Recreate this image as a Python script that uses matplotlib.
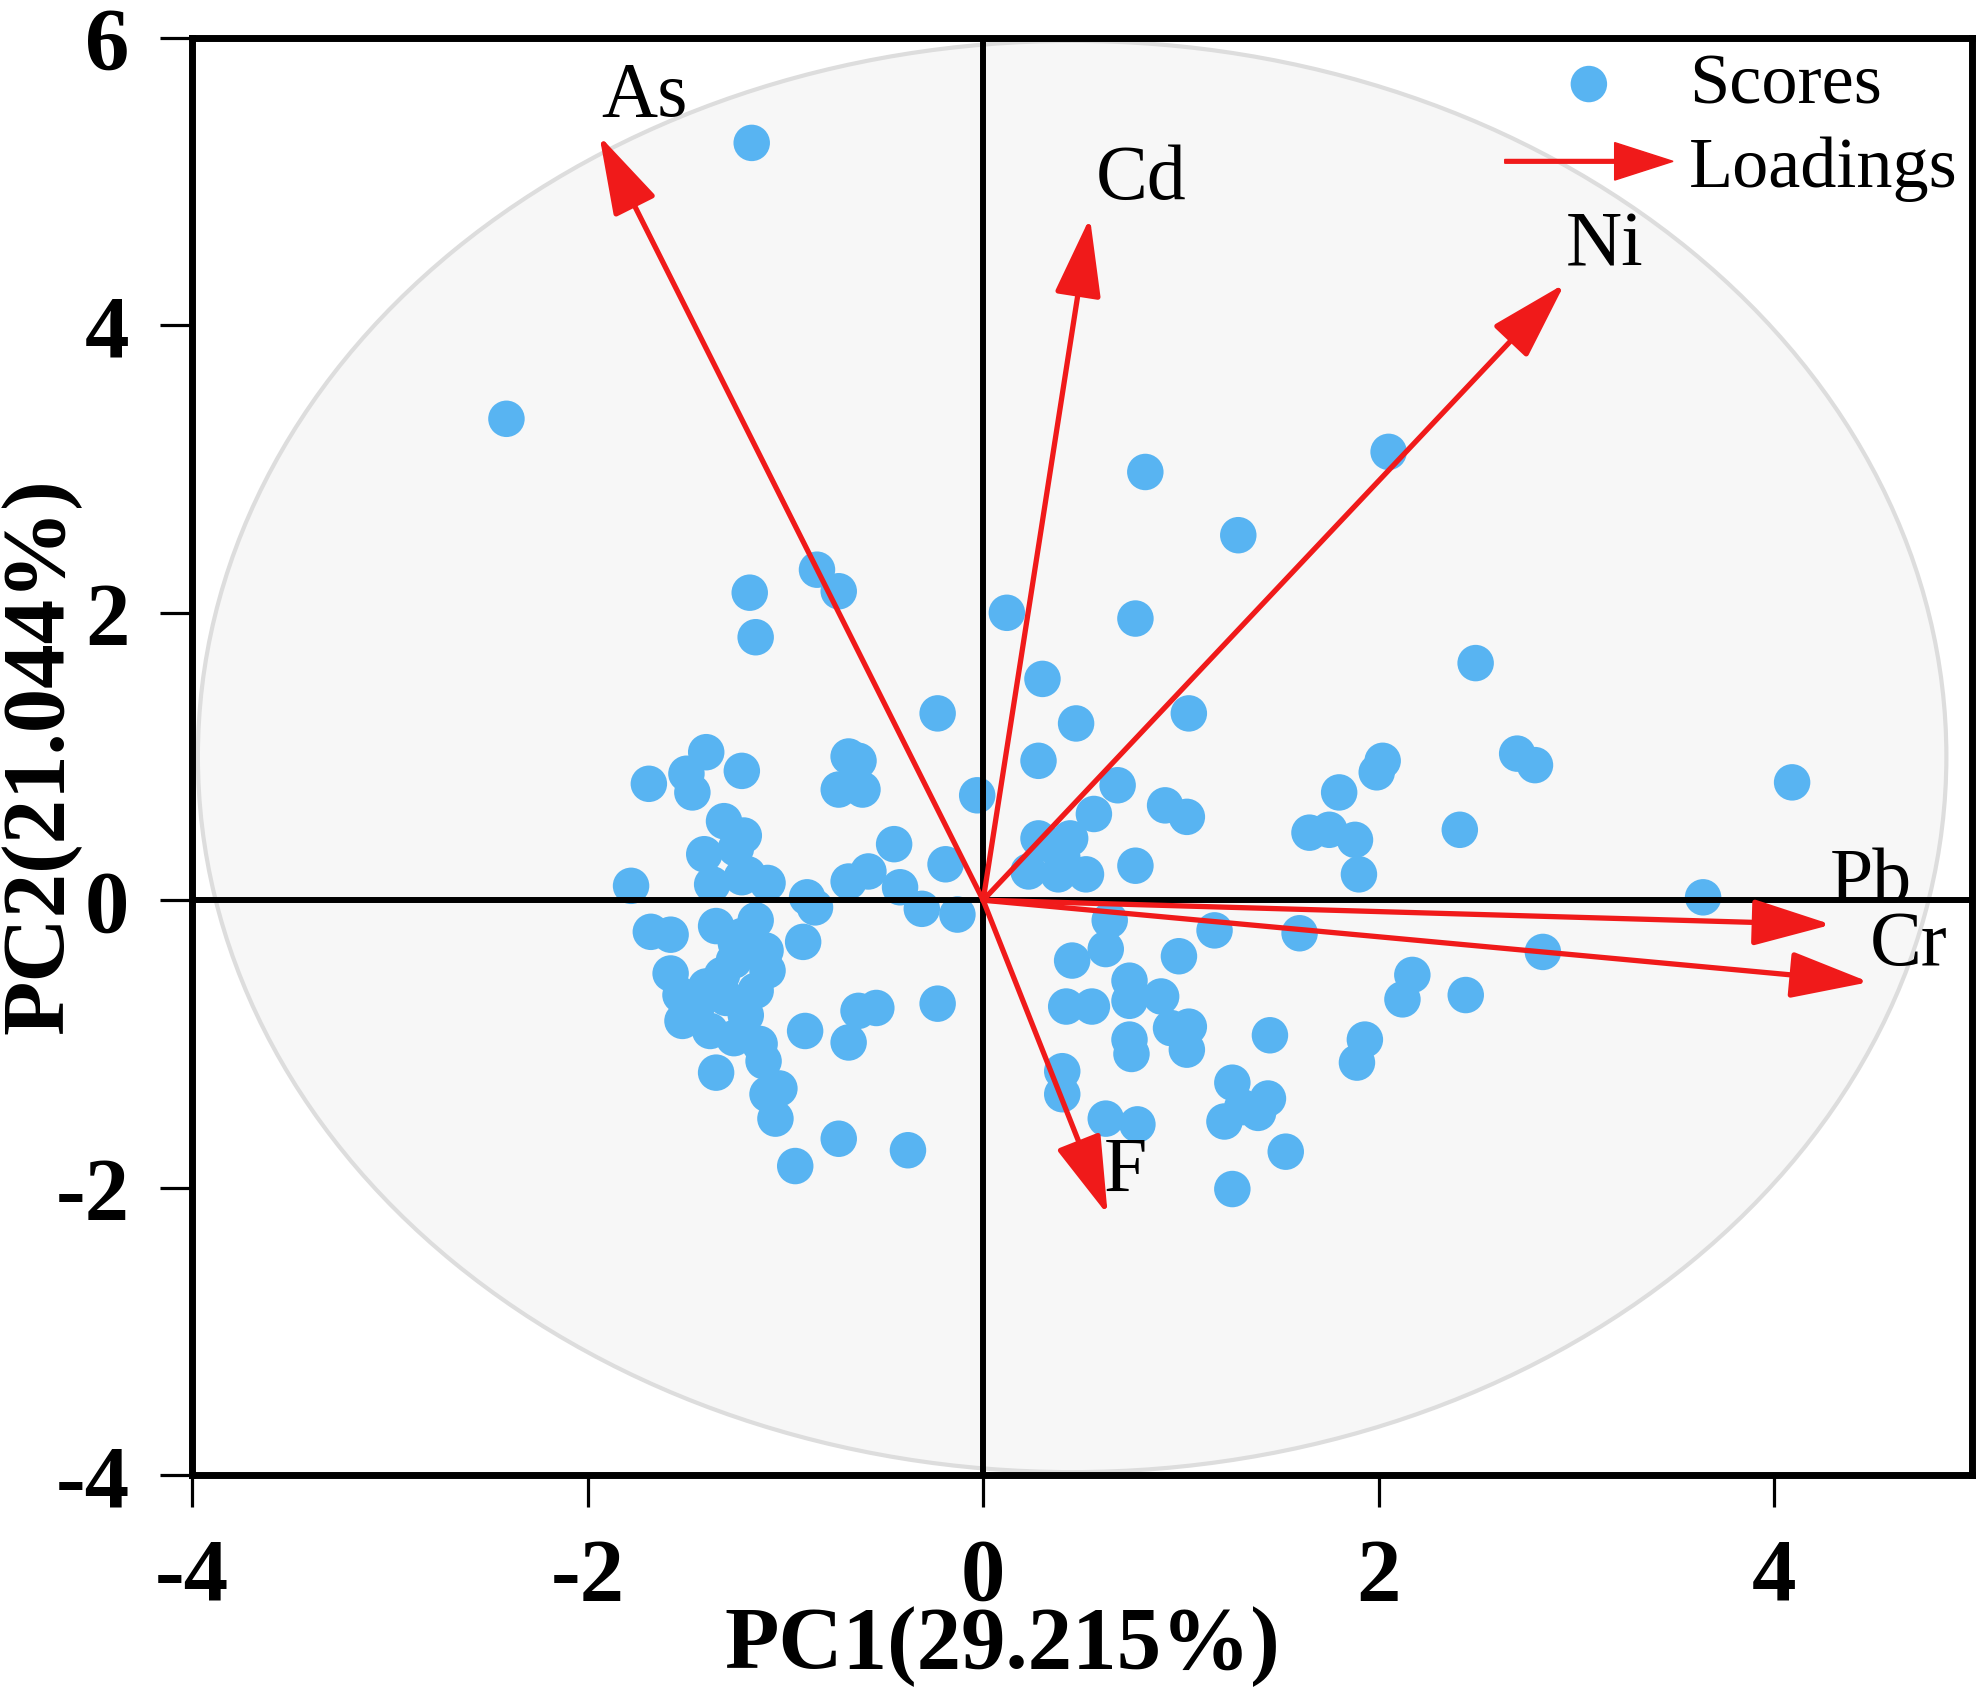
import matplotlib
matplotlib.use("Agg")
import matplotlib.pyplot as plt
import matplotlib.patches as mpatches
from matplotlib.legend_handler import HandlerPatch

plt.rcParams['font.family'] = ['Liberation Serif', 'DejaVu Serif']
plt.rcParams['axes.unicode_minus'] = False

# PCA scores
score_pc1 = [
    -1.17, -2.41, -0.84, -0.73, -1.18, -1.15, 0.82, 1.29, 2.05, 0.12, 0.77,
    -1.69, -1.40, -1.50, -1.47, -1.22, -0.68, -0.63, -0.73, -0.61, -0.23, -0.03,
    -1.31, -1.21, -1.41, -1.25, -1.78, -1.37, -1.22, -1.09, -1.19, -0.89, -0.85,
    -0.68, -0.58, -0.45, -0.42, -0.31, -0.19, -0.13, -0.91,
    -1.68, -1.58, -1.35, -1.15, -1.25, -1.10, -1.26, -1.22,
    -1.58, -1.53, -1.52, -1.32, -1.30, -1.15, -1.09, -1.45, -1.40, -1.20,
    -1.38, -1.26, -1.13, -1.11, -1.35, -1.03, -1.09, -1.05,
    -0.90, -0.63, -0.54, -0.68, -0.23, -0.73, -0.95, -0.38,
    0.30, 0.47, 0.28, 1.04, 0.68, 0.92, 1.03, 0.56, 0.28, 0.44, 0.23, 0.38,
    0.52, 0.40, 0.77, 0.35,
    2.02, 1.99, 1.80, 1.65, 1.75, 1.88, 1.90,
    0.64, 1.17, 1.60,
    0.45, 0.62, 0.99, 0.74, 0.74, 0.90, 0.42, 0.55, 0.95, 1.04, 1.03, 0.74, 0.75,
    1.45, 1.93, 1.89, 2.17, 2.12,
    0.40, 0.40, 0.62, 0.78, 1.26, 1.22, 1.44, 1.39, 1.31, 1.53, 1.26,
    2.49, 2.70, 2.79, 4.09, 2.41, 3.64, 2.83, 2.44,
]
score_pc2 = [
    5.27, 3.35, 2.30, 2.15, 2.14, 1.83, 2.98, 2.54, 3.12, 2.00, 1.96,
    0.81, 1.03, 0.88, 0.75, 0.90, 1.00, 0.97, 0.77, 0.77, 1.30, 0.73,
    0.55, 0.45, 0.32, 0.36, 0.10, 0.11, 0.16, 0.12, 0.18, 0.02, -0.05,
    0.13, 0.20, 0.39, 0.09, -0.06, 0.25, -0.10, -0.29,
    -0.22, -0.24, -0.18, -0.14, -0.30, -0.35, -0.42, -0.25,
    -0.51, -0.66, -0.84, -0.52, -0.68, -0.63, -0.49, -0.75, -0.60, -0.80,
    -0.91, -0.96, -1.00, -1.12, -1.20, -1.31, -1.35, -1.52,
    -0.91, -0.77, -0.75, -0.99, -0.72, -1.66, -1.85, -1.74,
    1.54, 1.23, 0.97, 1.30, 0.80, 0.66, 0.58, 0.60, 0.43, 0.43, 0.20, 0.18,
    0.18, 0.30, 0.24, 0.38,
    0.97, 0.89, 0.75, 0.47, 0.49, 0.42, 0.18,
    -0.14, -0.21, -0.23,
    -0.42, -0.34, -0.39, -0.56, -0.70, -0.67, -0.74, -0.74, -0.89, -0.88, -1.04, -0.97, -1.07,
    -0.94, -0.97, -1.13, -0.52, -0.69,
    -1.19, -1.35, -1.52, -1.56, -1.27, -1.54, -1.38, -1.48, -1.44, -1.75, -2.01,
    1.65, 1.02, 0.94, 0.82, 0.49, 0.02, -0.36, -0.66,
]

# loadings (arrow tips)
elements = ['As', 'Cd', 'Ni', 'Pb', 'Cr', 'F']
load_pc1 = [-1.94, 0.54, 2.94, 4.29, 4.48, 0.63]
load_pc2 = [5.32, 4.75, 4.29, -0.17, -0.57, -2.19]

# confidence ellipse
ell_center = (0.45, 1.0)
ell_width = 8.84
ell_height = 9.96

fig = plt.figure(figsize=(19.83, 16.89), dpi=100)
ax = fig.add_axes([0.0968, 0.1267, 0.8977, 0.8508])

ax.add_patch(mpatches.Ellipse(ell_center, ell_width, ell_height, facecolor='#f7f7f7',
                              edgecolor='#dddddd', lw=3, zorder=0))

sc = ax.scatter(score_pc1, score_pc2, s=690, color='#58b4f2', edgecolors='none',
                zorder=2, label='Scores')

ax.axhline(0, color='black', lw=4.3, zorder=3)
ax.axvline(0, color='black', lw=4.3, zorder=3)

red = '#f01a1a'
for name, lx, ly in zip(elements, load_pc1, load_pc2):
    ax.annotate('', xy=(lx, ly), xytext=(0, 0),
                arrowprops=dict(arrowstyle='-|>,head_length=4.9,head_width=1.45',
                                mutation_scale=10, lw=3.8, color=red,
                                shrinkA=0, shrinkB=0), zorder=4)

# label offsets from arrow tips
label_off = {'As': (0.23, 0.27), 'Cd': (0.26, 0.26), 'Ni': (0.20, 0.26),
             'Pb': (0.20, 0.29), 'Cr': (0.20, 0.25), 'F': (0.09, 0.30)}
for name, lx, ly in zip(elements, load_pc1, load_pc2):
    dx, dy = label_off[name]
    ax.text(lx + dx, ly + dy, name, fontsize=56, ha='center', va='center', zorder=5)

ax.set_xlim(-4, 5)
ax.set_ylim(-4, 6)
ax.set_xticks([-4, -2, 0, 2, 4])
ax.set_yticks([-4, -2, 0, 2, 4, 6])
ax.tick_params(direction='out', length=23, width=2.3, labelsize=64, pad=22)
for lab in ax.get_xticklabels() + ax.get_yticklabels():
    lab.set_fontweight('bold')
for sp in ax.spines.values():
    sp.set_linewidth(5)

ax.set_xlabel('PC1(29.215%)', fontsize=64, fontweight='bold', va='baseline')
ax.xaxis.set_label_coords(0.455, -0.134)
ax.set_ylabel('PC2(21.044%)', fontsize=64, fontweight='bold')
ax.yaxis.set_label_coords(-0.062, 0.5)


def make_arrow(legend, orig_handle, xdescent, ydescent, width, height, fontsize):
    return mpatches.FancyArrow(0, 0.5 * height, width, 0, length_includes_head=True,
                               width=2.7, head_width=27, head_length=42, color=red)


arrow_proxy = mpatches.FancyArrow(0, 0, 1, 0, color=red, label='Loadings')
ax.legend(handles=[sc, arrow_proxy], loc='upper right', frameon=False, fontsize=52,
          handlelength=2.33, handletextpad=0.22, labelspacing=0.25,
          borderaxespad=0.1, borderpad=0.1, scatterpoints=1,
          handler_map={mpatches.FancyArrow: HandlerPatch(patch_func=make_arrow)})

fig.savefig('out.png', dpi=100)
